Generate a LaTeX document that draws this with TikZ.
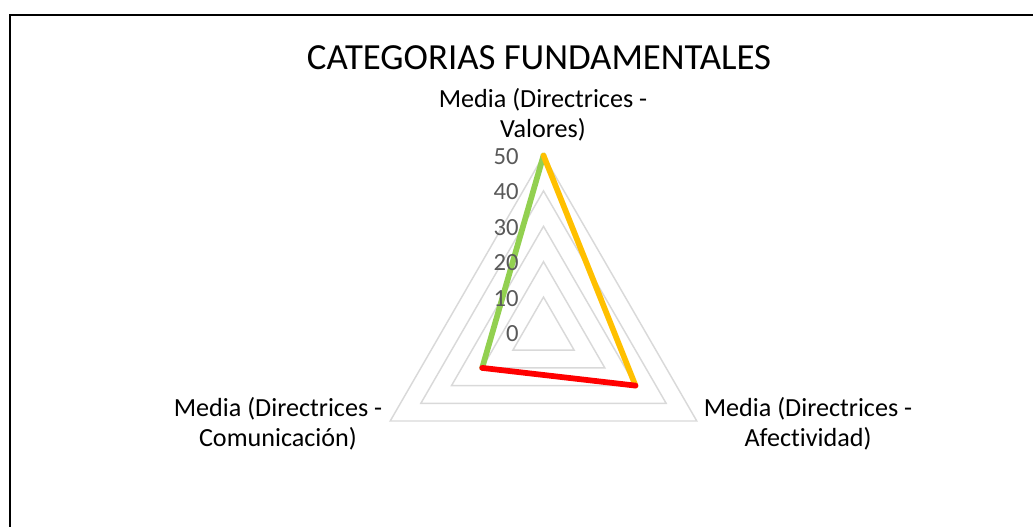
\documentclass[tikz,border=0pt]{standalone}
\usepackage{fontspec}
\setmainfont{Carlito}[Ligatures=NoCommon]
\usetikzlibrary{calc}
\definecolor{gridgray}{HTML}{D9D9D9}
\definecolor{ticktext}{HTML}{595959}
\definecolor{sgreen}{HTML}{92D050}
\definecolor{syellow}{HTML}{FFC000}
\definecolor{sred}{HTML}{FF0000}
\begin{document}
\begin{tikzpicture}[x=0.75pt,y=-0.75pt,
  gridline/.style={draw=gridgray,line width=1.1pt,line join=miter},
  series/.style={line width=4.3pt,line cap=round,line join=round},
  ticklabel/.style={text=ticktext,font=\fontsize{18.5}{21}\selectfont,anchor=east,inner sep=0pt},
  axislabel/.style={align=center,font=\fontsize{19.6}{22.5}\selectfont,inner sep=0pt},
  frameline/.style={draw=black,line width=1.2pt}]
\useasboundingbox (0,0) rectangle (1033,527);
% frame
\coordinate (fbl) at (10,527);
\coordinate (ftl) at (10,15);
\coordinate (ftr) at (1033,15);
\draw[frameline] (fbl) -- (ftl) -- (ftr);
% centre
\coordinate (O) at (543.5,332.5);
% grid triangles
\foreach \v in {10,20,30,40,50}{
  \pgfmathsetmacro{\r}{\v*3.54}
  \draw[gridline] ($(O)+(-90:\r)$) -- ($(O)+(30:\r)$) -- ($(O)+(150:\r)$) -- cycle;
}
% data points
\coordinate (pV) at ($(O)+(-90:177)$);
\coordinate (pA) at ($(O)+(30:106.2)$);
\coordinate (pC) at ($(O)+(150:70.8)$);
\draw[series,draw=sgreen] (pC) -- (pV);
\draw[series,draw=syellow] (pV) -- (pA);
\draw[series,draw=sred] (pA) -- (pC);
% tick labels
\foreach \v in {0,10,20,30,40,50}{
  \node[ticklabel] (t\v) at (519,{333.5-\v*3.54}) {\v};
}
% title
\node[font=\fontsize{27.6}{32}\selectfont,anchor=base,inner sep=0pt] (title) at (539,70) {CATEGORIAS FUNDAMENTALES};
% axis labels
\node[axislabel] (lV) at (543,115) {Media (Directrices -\\Valores)};
\node[axislabel] (lC) at (278,424) {Media (Directrices -\\Comunicación)};
\node[axislabel] (lA) at (808,424) {Media (Directrices -\\Afectividad)};
\end{tikzpicture}
\end{document}
